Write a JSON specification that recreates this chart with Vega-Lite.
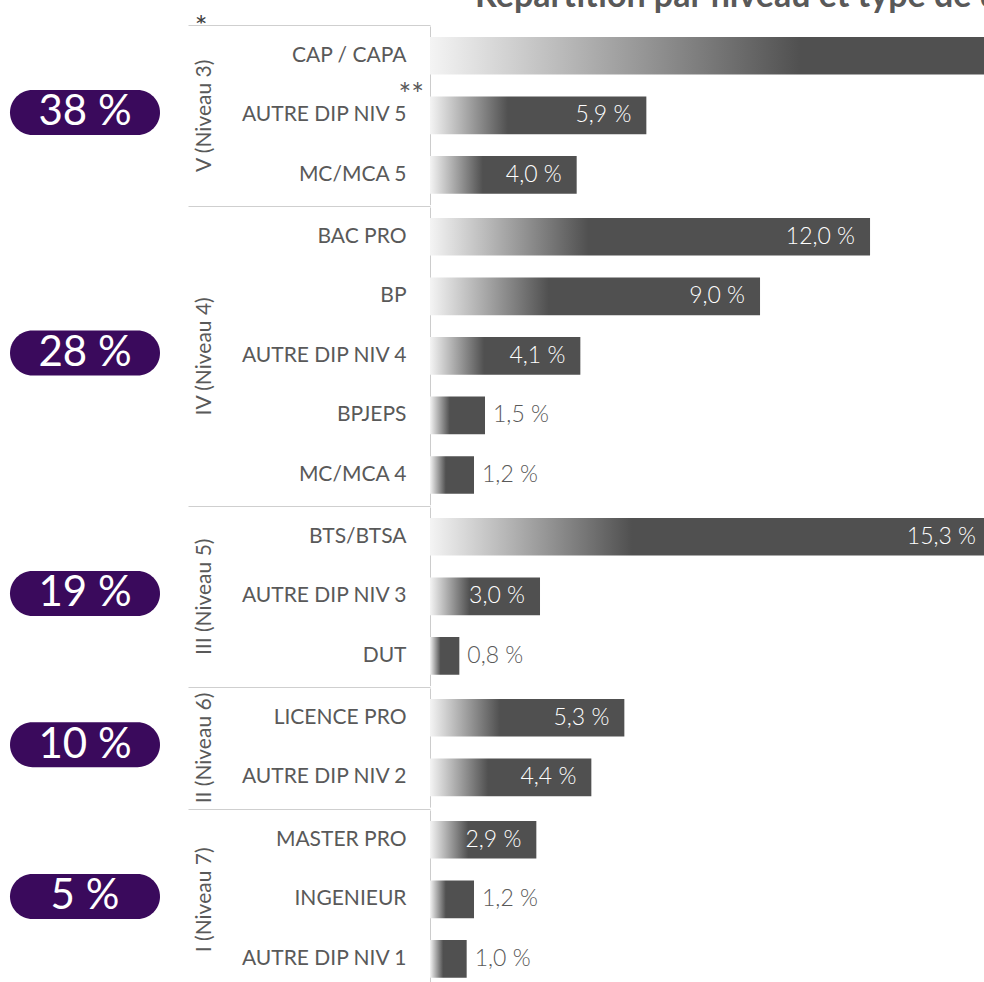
{
  "$schema": "https://vega.github.io/schema/vega-lite/v6.json",
  "padding": 0,
  "background": "white",
  "config": {
    "font": "Lato",
    "view": {"stroke": null, "fill": "white"},
    "concat": {"spacing": 0},
    "locale": {"number": {"decimal": ",", "thousands": " ", "grouping": [3], "currency": ["", " €"], "percent": " %"}},
    "axisY": {
      "domainColor": "#cccccc", "domainWidth": 1,
      "bandPosition": -0.29,
      "tickSize": 242, "tickColor": "#cfcfcf", "tickWidth": 1,
      "labelPadding": -218, "labelFontSize": 21, "labelColor": "#595959", "labelLimit": 400,
      "titlePadding": 16, "titleFontSize": 21, "titleFontWeight": "normal", "titleColor": "#595959",
      "grid": false
    }
  },
  "datasets": {
    "diplomes": [
      {"niveau": "V (Niveau 3)", "pct_niveau": 0.38, "diplome": "CAP / CAPA", "part": 0.281, "note": ""},
      {"niveau": "V (Niveau 3)", "pct_niveau": 0.38, "diplome": "AUTRE DIP NIV 5", "part": 0.059, "note": "**"},
      {"niveau": "V (Niveau 3)", "pct_niveau": 0.38, "diplome": "MC/MCA 5", "part": 0.040, "note": ""},
      {"niveau": "IV (Niveau 4)", "pct_niveau": 0.28, "diplome": "BAC PRO", "part": 0.120, "note": ""},
      {"niveau": "IV (Niveau 4)", "pct_niveau": 0.28, "diplome": "BP", "part": 0.090, "note": ""},
      {"niveau": "IV (Niveau 4)", "pct_niveau": 0.28, "diplome": "AUTRE DIP NIV 4", "part": 0.041, "note": ""},
      {"niveau": "IV (Niveau 4)", "pct_niveau": 0.28, "diplome": "BPJEPS", "part": 0.015, "note": ""},
      {"niveau": "IV (Niveau 4)", "pct_niveau": 0.28, "diplome": "MC/MCA 4", "part": 0.012, "note": ""},
      {"niveau": "III (Niveau 5)", "pct_niveau": 0.19, "diplome": "BTS/BTSA", "part": 0.153, "note": ""},
      {"niveau": "III (Niveau 5)", "pct_niveau": 0.19, "diplome": "AUTRE DIP NIV 3", "part": 0.030, "note": ""},
      {"niveau": "III (Niveau 5)", "pct_niveau": 0.19, "diplome": "DUT", "part": 0.008, "note": ""},
      {"niveau": "II (Niveau 6)", "pct_niveau": 0.10, "diplome": "LICENCE PRO", "part": 0.053, "note": ""},
      {"niveau": "II (Niveau 6)", "pct_niveau": 0.10, "diplome": "AUTRE DIP NIV 2", "part": 0.044, "note": ""},
      {"niveau": "I (Niveau 7)", "pct_niveau": 0.05, "diplome": "MASTER PRO", "part": 0.029, "note": ""},
      {"niveau": "I (Niveau 7)", "pct_niveau": 0.05, "diplome": "INGENIEUR", "part": 0.012, "note": ""},
      {"niveau": "I (Niveau 7)", "pct_niveau": 0.05, "diplome": "AUTRE DIP NIV 1", "part": 0.010, "note": ""}
    ]
  },
  "spacing": 0,
  "vconcat": [
    {
      "width": 984,
      "height": 23.5,
      "data": {"values": [{"titre": "Répartition par niveau et type de diplôme", "renvoi": "*"}]},
      "layer": [
        {
          "mark": {"type": "text", "clip": true, "align": "left", "baseline": "alphabetic", "dx": -17, "dy": -4.75, "fontSize": 34, "fontWeight": "bold", "color": "#595959"},
          "encoding": {"text": {"field": "titre", "type": "nominal"}}
        },
        {
          "mark": {"type": "text", "clip": true, "align": "center", "baseline": "alphabetic", "dx": -291, "dy": 26, "fontSize": 30, "color": "#404040"},
          "encoding": {"text": {"field": "renvoi", "type": "nominal"}}
        }
      ]
    },
    {
      "spacing": 17,
      "hconcat": [
        {
          "width": 170, "height": {"step": 59.55},
          "data": {"name": "diplomes"},
          "transform": [{"filter": "datum.niveau == 'V (Niveau 3)'"}],
          "layer": [
            {"mark": {"type": "text", "opacity": 0}, "encoding": {"y": {"field": "diplome", "type": "nominal", "sort": null, "axis": null, "scale": {"paddingInner": 0.367, "paddingOuter": 0.1835}}, "text": {"value": ""}}},
            {"transform": [{"aggregate": [{"op": "max", "field": "pct_niveau", "as": "pct"}]}],
             "layer": [
               {"mark": {"type": "point", "yOffset": 16, "shape": "M-0.7,-0.3L0.7,-0.3A0.3,0.3,0,0,1,0.7,0.3L-0.7,0.3A0.3,0.3,0,0,1,-0.7,-0.3Z", "size": 22500, "filled": true, "fill": "#3a0a5c", "opacity": 1, "strokeOpacity": 0}, "encoding": {}},
               {"mark": {"type": "text", "yOffset": 16, "color": "white", "fontSize": 42, "baseline": "middle", "align": "center"}, "encoding": {"text": {"field": "pct", "type": "quantitative", "format": ".0%"}}}
             ]}
          ]
        },
        {
          "width": 555, "height": {"step": 59.55},
          "data": {"name": "diplomes"},
          "transform": [{"filter": "datum.niveau == 'V (Niveau 3)'"}],
          "encoding": {
            "y": {"field": "diplome", "type": "nominal", "sort": null, "scale": {"paddingInner": 0.367, "paddingOuter": 0.1835},
                  "axis": {"title": "V (Niveau 3)", "tickOpacity": {"condition": {"test": "datum.index == 0", "value": 1}, "value": 0}}},
            "x": {"field": "part", "type": "quantitative", "axis": null, "scale": {"domain": [0, 0.15135], "nice": false, "zero": true}}
          },
          "layer": [
            {"mark": {"type": "bar", "clip": true, "color": {"gradient": "linear", "x1": 0, "y1": 0, "x2": 1, "y2": 0, "stops": [{"offset": 0, "color": "#f4f4f4"}, {"offset": 0.36, "color": "#505050"}, {"offset": 1, "color": "#505050"}]}}},
            {"transform": [{"filter": "datum.part >= 0.025"}], "mark": {"type": "text", "clip": true, "align": "right", "baseline": "middle", "dx": -15, "fontSize": 23, "fontWeight": 300, "color": "white"}, "encoding": {"text": {"field": "part", "type": "quantitative", "format": ".1%"}}},
            {"transform": [{"filter": "datum.part < 0.025"}], "mark": {"type": "text", "clip": true, "align": "left", "baseline": "middle", "dx": 8, "fontSize": 23, "fontWeight": 300, "color": "#595959"}, "encoding": {"text": {"field": "part", "type": "quantitative", "format": ".1%"}}},
            {"transform": [{"filter": "datum.note != ''"}], "mark": {"type": "text", "align": "right", "baseline": "middle", "dx": -6, "dy": -19, "fontSize": 30, "color": "#595959"}, "encoding": {"x": {"datum": 0}, "text": {"field": "note", "type": "nominal"}}}
          ]
        }
      ]
    },
    {
      "spacing": 17,
      "hconcat": [
        {
          "width": 170, "height": {"step": 59.55},
          "data": {"name": "diplomes"},
          "transform": [{"filter": "datum.niveau == 'IV (Niveau 4)'"}],
          "layer": [
            {"mark": {"type": "text", "opacity": 0}, "encoding": {"y": {"field": "diplome", "type": "nominal", "sort": null, "axis": null, "scale": {"paddingInner": 0.367, "paddingOuter": 0.1835}}, "text": {"value": ""}}},
            {"transform": [{"aggregate": [{"op": "max", "field": "pct_niveau", "as": "pct"}]}],
             "layer": [
               {"mark": {"type": "point", "yOffset": 16, "shape": "M-0.7,-0.3L0.7,-0.3A0.3,0.3,0,0,1,0.7,0.3L-0.7,0.3A0.3,0.3,0,0,1,-0.7,-0.3Z", "size": 22500, "filled": true, "fill": "#3a0a5c", "opacity": 1, "strokeOpacity": 0}, "encoding": {}},
               {"mark": {"type": "text", "yOffset": 16, "color": "white", "fontSize": 42, "baseline": "middle", "align": "center"}, "encoding": {"text": {"field": "pct", "type": "quantitative", "format": ".0%"}}}
             ]}
          ]
        },
        {
          "width": 555, "height": {"step": 59.55},
          "data": {"name": "diplomes"},
          "transform": [{"filter": "datum.niveau == 'IV (Niveau 4)'"}],
          "encoding": {
            "y": {"field": "diplome", "type": "nominal", "sort": null, "scale": {"paddingInner": 0.367, "paddingOuter": 0.1835},
                  "axis": {"title": "IV (Niveau 4)", "tickOpacity": {"condition": {"test": "datum.index == 0", "value": 1}, "value": 0}}},
            "x": {"field": "part", "type": "quantitative", "axis": null, "scale": {"domain": [0, 0.15135], "nice": false, "zero": true}}
          },
          "layer": [
            {"mark": {"type": "bar", "clip": true, "color": {"gradient": "linear", "x1": 0, "y1": 0, "x2": 1, "y2": 0, "stops": [{"offset": 0, "color": "#f4f4f4"}, {"offset": 0.36, "color": "#505050"}, {"offset": 1, "color": "#505050"}]}}},
            {"transform": [{"filter": "datum.part >= 0.025"}], "mark": {"type": "text", "clip": true, "align": "right", "baseline": "middle", "dx": -15, "fontSize": 23, "fontWeight": 300, "color": "white"}, "encoding": {"text": {"field": "part", "type": "quantitative", "format": ".1%"}}},
            {"transform": [{"filter": "datum.part < 0.025"}], "mark": {"type": "text", "clip": true, "align": "left", "baseline": "middle", "dx": 8, "fontSize": 23, "fontWeight": 300, "color": "#595959"}, "encoding": {"text": {"field": "part", "type": "quantitative", "format": ".1%"}}}
          ]
        }
      ]
    },
    {
      "spacing": 17,
      "hconcat": [
        {
          "width": 170, "height": {"step": 59.55},
          "data": {"name": "diplomes"},
          "transform": [{"filter": "datum.niveau == 'III (Niveau 5)'"}],
          "layer": [
            {"mark": {"type": "text", "opacity": 0}, "encoding": {"y": {"field": "diplome", "type": "nominal", "sort": null, "axis": null, "scale": {"paddingInner": 0.367, "paddingOuter": 0.1835}}, "text": {"value": ""}}},
            {"transform": [{"aggregate": [{"op": "max", "field": "pct_niveau", "as": "pct"}]}],
             "layer": [
               {"mark": {"type": "point", "yOffset": 16, "shape": "M-0.7,-0.3L0.7,-0.3A0.3,0.3,0,0,1,0.7,0.3L-0.7,0.3A0.3,0.3,0,0,1,-0.7,-0.3Z", "size": 22500, "filled": true, "fill": "#3a0a5c", "opacity": 1, "strokeOpacity": 0}, "encoding": {}},
               {"mark": {"type": "text", "yOffset": 16, "color": "white", "fontSize": 42, "baseline": "middle", "align": "center"}, "encoding": {"text": {"field": "pct", "type": "quantitative", "format": ".0%"}}}
             ]}
          ]
        },
        {
          "width": 555, "height": {"step": 59.55},
          "data": {"name": "diplomes"},
          "transform": [{"filter": "datum.niveau == 'III (Niveau 5)'"}],
          "encoding": {
            "y": {"field": "diplome", "type": "nominal", "sort": null, "scale": {"paddingInner": 0.367, "paddingOuter": 0.1835},
                  "axis": {"title": "III (Niveau 5)", "tickOpacity": {"condition": {"test": "datum.index == 0", "value": 1}, "value": 0}}},
            "x": {"field": "part", "type": "quantitative", "axis": null, "scale": {"domain": [0, 0.15135], "nice": false, "zero": true}}
          },
          "layer": [
            {"mark": {"type": "bar", "clip": true, "color": {"gradient": "linear", "x1": 0, "y1": 0, "x2": 1, "y2": 0, "stops": [{"offset": 0, "color": "#f4f4f4"}, {"offset": 0.36, "color": "#505050"}, {"offset": 1, "color": "#505050"}]}}},
            {"transform": [{"filter": "datum.part >= 0.025"}], "mark": {"type": "text", "clip": true, "align": "right", "baseline": "middle", "dx": -15, "fontSize": 23, "fontWeight": 300, "color": "white"}, "encoding": {"text": {"field": "part", "type": "quantitative", "format": ".1%"}}},
            {"transform": [{"filter": "datum.part < 0.025"}], "mark": {"type": "text", "clip": true, "align": "left", "baseline": "middle", "dx": 8, "fontSize": 23, "fontWeight": 300, "color": "#595959"}, "encoding": {"text": {"field": "part", "type": "quantitative", "format": ".1%"}}}
          ]
        }
      ]
    },
    {
      "spacing": 17,
      "hconcat": [
        {
          "width": 170, "height": {"step": 59.55},
          "data": {"name": "diplomes"},
          "transform": [{"filter": "datum.niveau == 'II (Niveau 6)'"}],
          "layer": [
            {"mark": {"type": "text", "opacity": 0}, "encoding": {"y": {"field": "diplome", "type": "nominal", "sort": null, "axis": null, "scale": {"paddingInner": 0.367, "paddingOuter": 0.1835}}, "text": {"value": ""}}},
            {"transform": [{"aggregate": [{"op": "max", "field": "pct_niveau", "as": "pct"}]}],
             "layer": [
               {"mark": {"type": "point", "yOffset": 16, "shape": "M-0.7,-0.3L0.7,-0.3A0.3,0.3,0,0,1,0.7,0.3L-0.7,0.3A0.3,0.3,0,0,1,-0.7,-0.3Z", "size": 22500, "filled": true, "fill": "#3a0a5c", "opacity": 1, "strokeOpacity": 0}, "encoding": {}},
               {"mark": {"type": "text", "yOffset": 16, "color": "white", "fontSize": 42, "baseline": "middle", "align": "center"}, "encoding": {"text": {"field": "pct", "type": "quantitative", "format": ".0%"}}}
             ]}
          ]
        },
        {
          "width": 555, "height": {"step": 59.55},
          "data": {"name": "diplomes"},
          "transform": [{"filter": "datum.niveau == 'II (Niveau 6)'"}],
          "encoding": {
            "y": {"field": "diplome", "type": "nominal", "sort": null, "scale": {"paddingInner": 0.367, "paddingOuter": 0.1835},
                  "axis": {"title": "II (Niveau 6)", "tickOpacity": {"condition": {"test": "datum.index == 0", "value": 1}, "value": 0}}},
            "x": {"field": "part", "type": "quantitative", "axis": null, "scale": {"domain": [0, 0.15135], "nice": false, "zero": true}}
          },
          "layer": [
            {"mark": {"type": "bar", "clip": true, "color": {"gradient": "linear", "x1": 0, "y1": 0, "x2": 1, "y2": 0, "stops": [{"offset": 0, "color": "#f4f4f4"}, {"offset": 0.36, "color": "#505050"}, {"offset": 1, "color": "#505050"}]}}},
            {"transform": [{"filter": "datum.part >= 0.025"}], "mark": {"type": "text", "clip": true, "align": "right", "baseline": "middle", "dx": -15, "fontSize": 23, "fontWeight": 300, "color": "white"}, "encoding": {"text": {"field": "part", "type": "quantitative", "format": ".1%"}}},
            {"transform": [{"filter": "datum.part < 0.025"}], "mark": {"type": "text", "clip": true, "align": "left", "baseline": "middle", "dx": 8, "fontSize": 23, "fontWeight": 300, "color": "#595959"}, "encoding": {"text": {"field": "part", "type": "quantitative", "format": ".1%"}}}
          ]
        }
      ]
    },
    {
      "spacing": 17,
      "hconcat": [
        {
          "width": 170, "height": {"step": 59.55},
          "data": {"name": "diplomes"},
          "transform": [{"filter": "datum.niveau == 'I (Niveau 7)'"}],
          "layer": [
            {"mark": {"type": "text", "opacity": 0}, "encoding": {"y": {"field": "diplome", "type": "nominal", "sort": null, "axis": null, "scale": {"paddingInner": 0.367, "paddingOuter": 0.1835}}, "text": {"value": ""}}},
            {"transform": [{"aggregate": [{"op": "max", "field": "pct_niveau", "as": "pct"}]}],
             "layer": [
               {"mark": {"type": "point", "yOffset": 16, "shape": "M-0.7,-0.3L0.7,-0.3A0.3,0.3,0,0,1,0.7,0.3L-0.7,0.3A0.3,0.3,0,0,1,-0.7,-0.3Z", "size": 22500, "filled": true, "fill": "#3a0a5c", "opacity": 1, "strokeOpacity": 0}, "encoding": {}},
               {"mark": {"type": "text", "yOffset": 16, "color": "white", "fontSize": 42, "baseline": "middle", "align": "center"}, "encoding": {"text": {"field": "pct", "type": "quantitative", "format": ".0%"}}}
             ]}
          ]
        },
        {
          "width": 555, "height": {"step": 59.55},
          "data": {"name": "diplomes"},
          "transform": [{"filter": "datum.niveau == 'I (Niveau 7)'"}],
          "encoding": {
            "y": {"field": "diplome", "type": "nominal", "sort": null, "scale": {"paddingInner": 0.367, "paddingOuter": 0.1835},
                  "axis": {"title": "I (Niveau 7)", "tickOpacity": {"condition": {"test": "datum.index == 0", "value": 1}, "value": 0}}},
            "x": {"field": "part", "type": "quantitative", "axis": null, "scale": {"domain": [0, 0.15135], "nice": false, "zero": true}}
          },
          "layer": [
            {"mark": {"type": "bar", "clip": true, "color": {"gradient": "linear", "x1": 0, "y1": 0, "x2": 1, "y2": 0, "stops": [{"offset": 0, "color": "#f4f4f4"}, {"offset": 0.36, "color": "#505050"}, {"offset": 1, "color": "#505050"}]}}},
            {"transform": [{"filter": "datum.part >= 0.025"}], "mark": {"type": "text", "clip": true, "align": "right", "baseline": "middle", "dx": -15, "fontSize": 23, "fontWeight": 300, "color": "white"}, "encoding": {"text": {"field": "part", "type": "quantitative", "format": ".1%"}}},
            {"transform": [{"filter": "datum.part < 0.025"}], "mark": {"type": "text", "clip": true, "align": "left", "baseline": "middle", "dx": 8, "fontSize": 23, "fontWeight": 300, "color": "#595959"}, "encoding": {"text": {"field": "part", "type": "quantitative", "format": ".1%"}}}
          ]
        }
      ]
    }
  ]
}
